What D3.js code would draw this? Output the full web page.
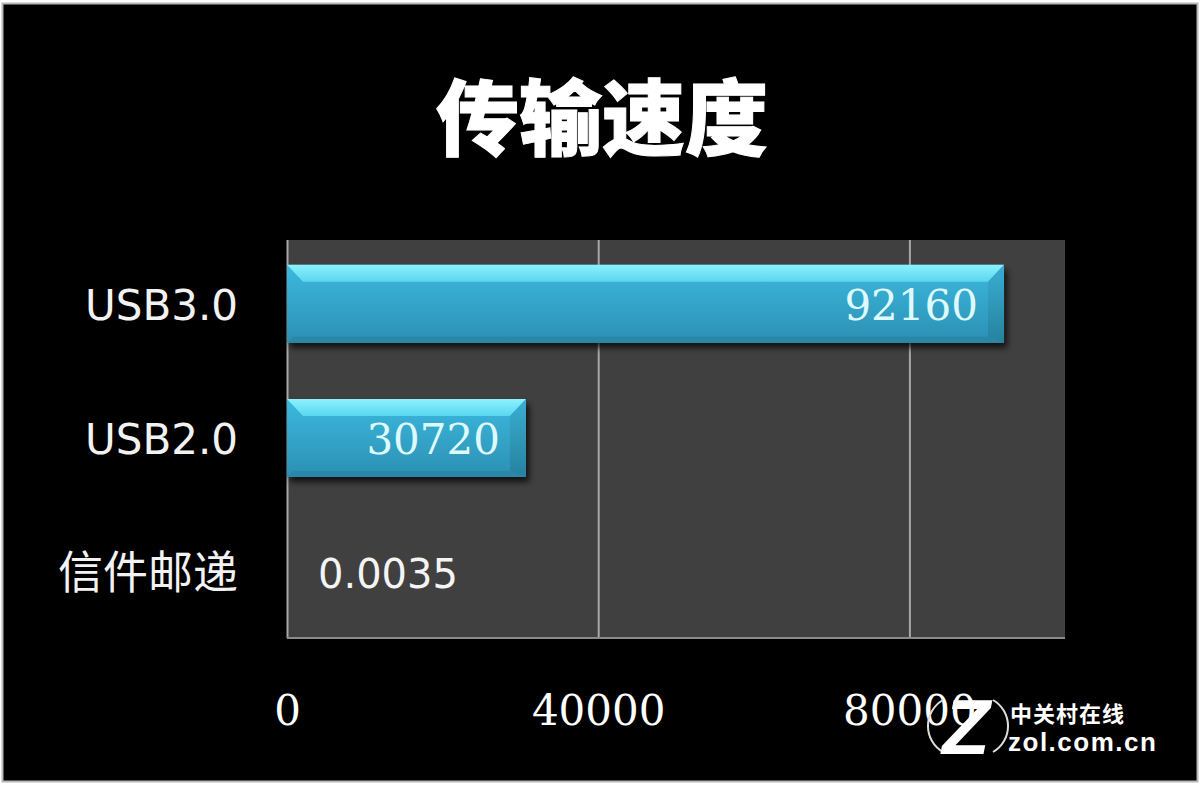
<!DOCTYPE html>
<html><head><meta charset="utf-8">
<script src="https://cdn.jsdelivr.net/npm/d3@7"></script>
<style>body{margin:0;background:#fff}svg{display:block}</style>
</head><body>
<svg id="c" width="1200" height="786"></svg>
<script>
const title = "传输速度";
const categories = ["USB3.0", "USB2.0", "信件邮递"];
const values = [92160, 30720, 0.0035];
const valueLabels = ["92160", "30720", "0.0035"];
const xTicks = [0, 40000, 80000];
const xMax = 100000;

const svg = d3.select("#c");
const plot = {left: 287, right: 1065, top: 240, bottom: 638};

// frame
svg.append("rect").attr("x", 2.5).attr("y", 3.5).attr("width", 1195).attr("height", 778)
  .attr("fill", "#000").attr("stroke", "#b8b8b8").attr("stroke-width", 2);

const defs = svg.append("defs");
const gBody = defs.append("linearGradient").attr("id", "body").attr("x1", 0).attr("y1", 0).attr("x2", 0).attr("y2", 1);
gBody.append("stop").attr("offset", "0%").attr("stop-color", "#3cb9de");
gBody.append("stop").attr("offset", "100%").attr("stop-color", "#2b90b3");
const gTop = defs.append("linearGradient").attr("id", "topb").attr("x1", 0).attr("y1", 0).attr("x2", 0).attr("y2", 1);
gTop.append("stop").attr("offset", "0%").attr("stop-color", "#8cf2fd");
gTop.append("stop").attr("offset", "100%").attr("stop-color", "#5ad6f0");
const gRight = defs.append("linearGradient").attr("id", "rightb").attr("x1", 0).attr("y1", 0).attr("x2", 0).attr("y2", 1);
gRight.append("stop").attr("offset", "0%").attr("stop-color", "#3aaed2");
gRight.append("stop").attr("offset", "100%").attr("stop-color", "#26829f");
const sh = defs.append("filter").attr("id", "shadow").attr("x", "-5%").attr("y", "-20%").attr("width", "115%").attr("height", "160%");
sh.append("feDropShadow").attr("dx", 3).attr("dy", 5).attr("stdDeviation", 3).attr("flood-color", "#000").attr("flood-opacity", 0.75);

// title
svg.append("text").attr("x", 602).attr("y", 149).attr("text-anchor", "middle")
  .attr("font-family", "'Noto Sans CJK SC', sans-serif").attr("font-weight", 900)
  .attr("font-size", 83).attr("fill", "#fff").attr("stroke", "#fff").attr("stroke-width", 1).text(title);

const x = d3.scaleLinear().domain([0, xMax]).range([plot.left, plot.right]);
const y = d3.scaleBand().domain(categories).range([plot.top - 2, plot.bottom]).paddingInner(0.42).paddingOuter(0.2);

// plot area
svg.append("rect").attr("x", plot.left).attr("y", plot.top).attr("width", plot.right - plot.left)
  .attr("height", plot.bottom - plot.top).attr("fill", "#404040");

// gridlines
const grid = svg.append("g").attr("transform", `translate(0,${plot.bottom})`)
  .call(d3.axisBottom(x).tickValues(xTicks).tickSize(-(plot.bottom - plot.top)).tickFormat(""));
grid.select(".domain").remove();
grid.selectAll("line").attr("stroke", "#a8a8a8").attr("stroke-width", 2);
// bottom border
svg.append("line").attr("x1", plot.left).attr("x2", plot.right).attr("y1", plot.bottom).attr("y2", plot.bottom)
  .attr("stroke", "#8a8a8a").attr("stroke-width", 2);

// x axis labels
const xa = svg.append("g").attr("transform", `translate(0,${plot.bottom})`)
  .call(d3.axisBottom(x).tickValues(xTicks).tickSize(0).tickPadding(57).tickFormat(d3.format("d")));
xa.select(".domain").remove();
xa.selectAll("text").attr("font-family", "'DejaVu Serif', serif").attr("font-size", 42).attr("fill", "#fff");

// y category labels
const ya = svg.append("g").attr("transform", `translate(${plot.left - 49},0)`)
  .call(d3.axisLeft(y).tickSize(0).tickPadding(0));
ya.select(".domain").remove();
ya.selectAll("text").attr("font-family", "'DejaVu Sans', 'Noto Sans CJK SC', sans-serif")
  .attr("font-size", d => /USB/.test(d) ? 42 : 45).attr("fill", "#f2f2f2").attr("dy", "0.38em");

// bars
const bev = 16, topH = 17;
const rows = categories.map((c, i) => ({c, v: values[i], l: valueLabels[i]}));
const bars = svg.append("g").selectAll("g").data(rows).join("g");
bars.each(function(d) {
  const g = d3.select(this);
  const x0 = x(0), x1 = x(d.v), y0 = y(d.c), h = y.bandwidth();
  if (x1 - x0 < 2 * bev) return;
  g.append("rect").attr("x", x0).attr("y", y0).attr("width", x1 - x0).attr("height", h)
    .attr("fill", "url(#body)").attr("filter", "url(#shadow)");
  g.append("polygon").attr("points", [[x0, y0], [x1, y0], [x1 - bev, y0 + topH], [x0 + bev, y0 + topH]].join(" "))
    .attr("fill", "url(#topb)");
  g.append("polygon").attr("points", [[x1, y0], [x1, y0 + h], [x1 - bev, y0 + h - 6], [x1 - bev, y0 + topH]].join(" "))
    .attr("fill", "url(#rightb)");
  g.append("polygon").attr("points", [[x0, y0 + h], [x1, y0 + h], [x1 - bev, y0 + h - 6], [x0 + bev * 0.4, y0 + h - 6]].join(" "))
    .attr("fill", "#2a87a8");
});

// value labels
const inside = d => x(d.v) - x(0) > 60;
svg.append("g").selectAll("text").data(rows).join("text")
  .attr("x", d => (inside(d) ? x(d.v) - 26 : x(0) + 31))
  .attr("y", d => y(d.c) + y.bandwidth() / 2 + 16)
  .attr("text-anchor", d => (inside(d) ? "end" : "start"))
  .attr("font-family", d => (inside(d) ? "'DejaVu Serif', serif" : "'DejaVu Sans', sans-serif"))
  .attr("font-size", d => (inside(d) ? 42 : 40))
  .attr("fill", d => (inside(d) ? "#dffaff" : "#f4f4f4"))
  .text(d => d.l);

// watermark
const wm = svg.append("g");
wm.append("path").attr("d", "M943,700 A30,30 0 0,0 943,752").attr("fill", "none").attr("stroke", "#ddd").attr("stroke-width", 2);
wm.append("path").attr("d", "M993,700 A30,30 0 0,1 993,752").attr("fill", "none").attr("stroke", "#ddd").attr("stroke-width", 2);
wm.append("text").attr("x", 966).attr("y", 754).attr("text-anchor", "middle")
  .attr("font-family", "'Liberation Sans', sans-serif").attr("font-weight", "bold").attr("font-style", "italic")
  .attr("font-size", 78).attr("fill", "#fff").text("Z");
wm.append("text").attr("x", 1010).attr("y", 722).attr("font-family", "'Noto Sans CJK SC', sans-serif")
  .attr("font-weight", "bold").attr("font-size", 22).attr("letter-spacing", 1).attr("fill", "#fff").text("中关村在线");
wm.append("text").attr("x", 1008).attr("y", 751).attr("font-family", "'Liberation Sans', sans-serif")
  .attr("font-weight", "bold").attr("font-size", 26).attr("letter-spacing", 1.5).attr("fill", "#fff").text("zol.com.cn");
</script>
</body></html>
